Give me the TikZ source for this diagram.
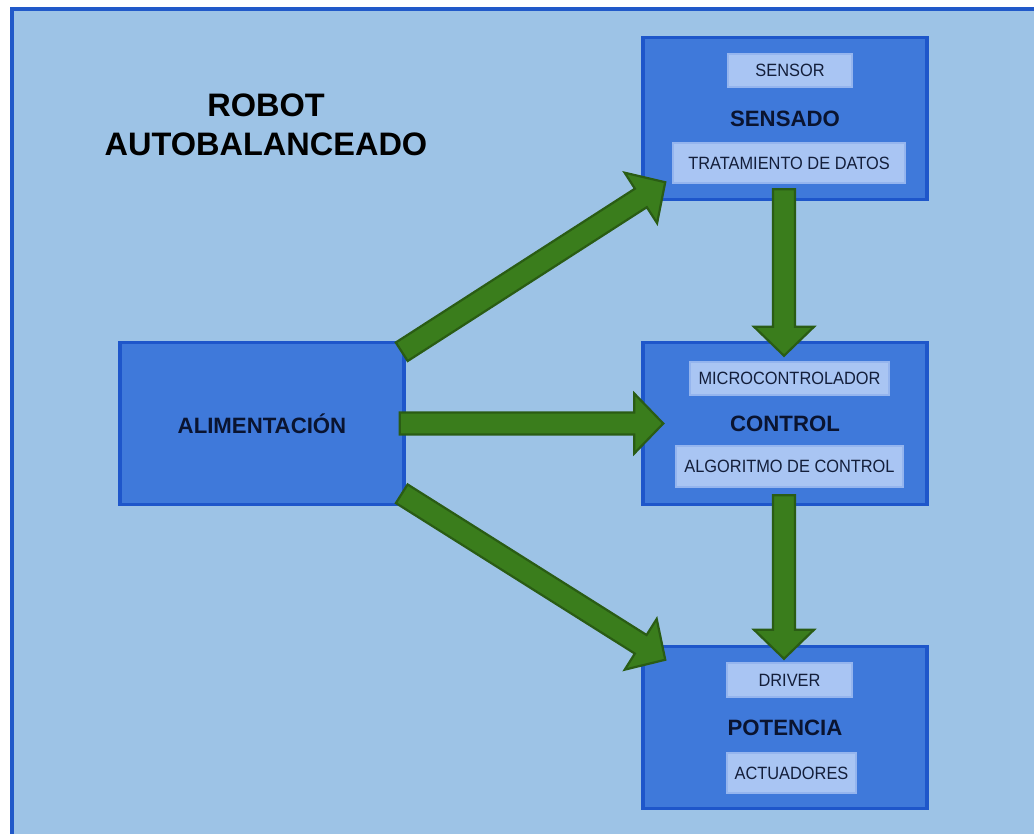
\documentclass[tikz,border=0pt]{standalone}
\usepackage{fontspec}
\setmainfont{Liberation Sans}
\newfontfamily\labelfont[FakeStretch=0.92]{Liberation Sans}
\usetikzlibrary{calc}

\definecolor{pagebg}{HTML}{9DC3E6}
\definecolor{framecol}{HTML}{2159C9}
\definecolor{blockfill}{HTML}{3F79DA}
\definecolor{blockline}{HTML}{1E56CA}
\definecolor{subfill}{HTML}{A9C5F3}
\definecolor{subline}{HTML}{95B5EE}
\definecolor{arrowfill}{HTML}{3A7D1C}
\definecolor{arrowline}{HTML}{2A5C14}
\definecolor{labeltext}{HTML}{131E3A}
\definecolor{titletext}{HTML}{0A1430}

% wide block arrow from #1 to #2
\newcommand\greenarrow[2]{%
  \coordinate (hb) at ($(#2)!29pt!(#1)$);
  \draw[bigarrow]
    ($(#1)!11pt!90:(#2)$) -- ($(hb)!11pt!-90:(#1)$) -- ($(hb)!30pt!-90:(#1)$)
    -- (#2) -- ($(hb)!30pt!90:(#1)$) -- ($(hb)!11pt!90:(#1)$)
    -- ($(#1)!11pt!-90:(#2)$) -- cycle;}

\begin{document}
\begin{tikzpicture}[x=1pt,y=-1pt,
  block/.style={draw=blockline,fill=blockfill,line width=3.5pt,inner sep=0pt,
    minimum width=284pt,minimum height=162pt,text=titletext,
    font=\fontsize{22.2}{26}\selectfont\bfseries},
  subblock/.style={draw=subline,fill=subfill,line width=2.5pt,inner sep=0pt,
    text=labeltext,font=\labelfont\fontsize{17.8}{20}\selectfont},
  bigarrow/.style={fill=arrowfill,draw=arrowline,line width=2.2pt,line join=miter},
  titlestyle/.style={inner sep=0pt,align=center,text=black,
    font=\fontsize{32.5}{39}\selectfont\bfseries}]

\useasboundingbox (0,0) rectangle (1034,834);
\fill[white] (0,0) rectangle (1034,834);
\begin{scope}
  \clip (0,0) rectangle (1034,834);
  \draw[framecol,fill=pagebg,line width=4pt] (12,9) rectangle (1060,860);
\end{scope}

% title
\node[titlestyle] (title) at (266,125) {ROBOT\\AUTOBALANCEADO};

% main blocks
\node[block] (sens) at (785,118.5) {SENSADO};
\node[block] (ctrl) at (785,423.5) {CONTROL};
\node[block] (pot)  at (785,727.5) {POTENCIA};
\node[block] (alim) at (262,423.5) {ALIMENTACIÓN};

% sub-blocks
\node[subblock,minimum width=124pt,minimum height=33pt] (sensor) at (790,70.5) {SENSOR};
\node[subblock,minimum width=232pt,minimum height=40pt] (trat) at (789,163) {TRATAMIENTO DE DATOS};
\node[subblock,minimum width=199pt,minimum height=33pt] (micro) at (789.5,378.5) {MICROCONTROLADOR};
\node[subblock,minimum width=227pt,minimum height=41pt] (algo) at (789.5,466.5) {ALGORITMO DE CONTROL};
\node[subblock,minimum width=125pt,minimum height=34pt] (drv) at (789.5,680) {DRIVER};
\node[subblock,minimum width=129pt,minimum height=40pt] (act) at (791.5,773) {ACTUADORES};

% connector end points
\coordinate (a1s) at ($(alim.north east)+(-4,11)$);
\coordinate (a1e) at ($(sens.south west)+(24,-19)$);
\coordinate (a2s) at ($(alim.east)+(-6,0)$);
\coordinate (a2e) at ($(ctrl.west)+(22,0)$);
\coordinate (a3s) at ($(alim.south east)+(-4,-12.5)$);
\coordinate (a3e) at ($(pot.north west)+(24,15)$);
\coordinate (v1s) at ($(sens.south)+(-1,-12)$);
\coordinate (v1e) at ($(ctrl.north)+(-1,15)$);
\coordinate (v2s) at ($(ctrl.south)+(-1,-11)$);
\coordinate (v2e) at ($(pot.north)+(-1,14)$);

% arrows
\greenarrow{a1s}{a1e}
\greenarrow{a2s}{a2e}
\greenarrow{a3s}{a3e}
\greenarrow{v1s}{v1e}
\greenarrow{v2s}{v2e}

\end{tikzpicture}
\end{document}
